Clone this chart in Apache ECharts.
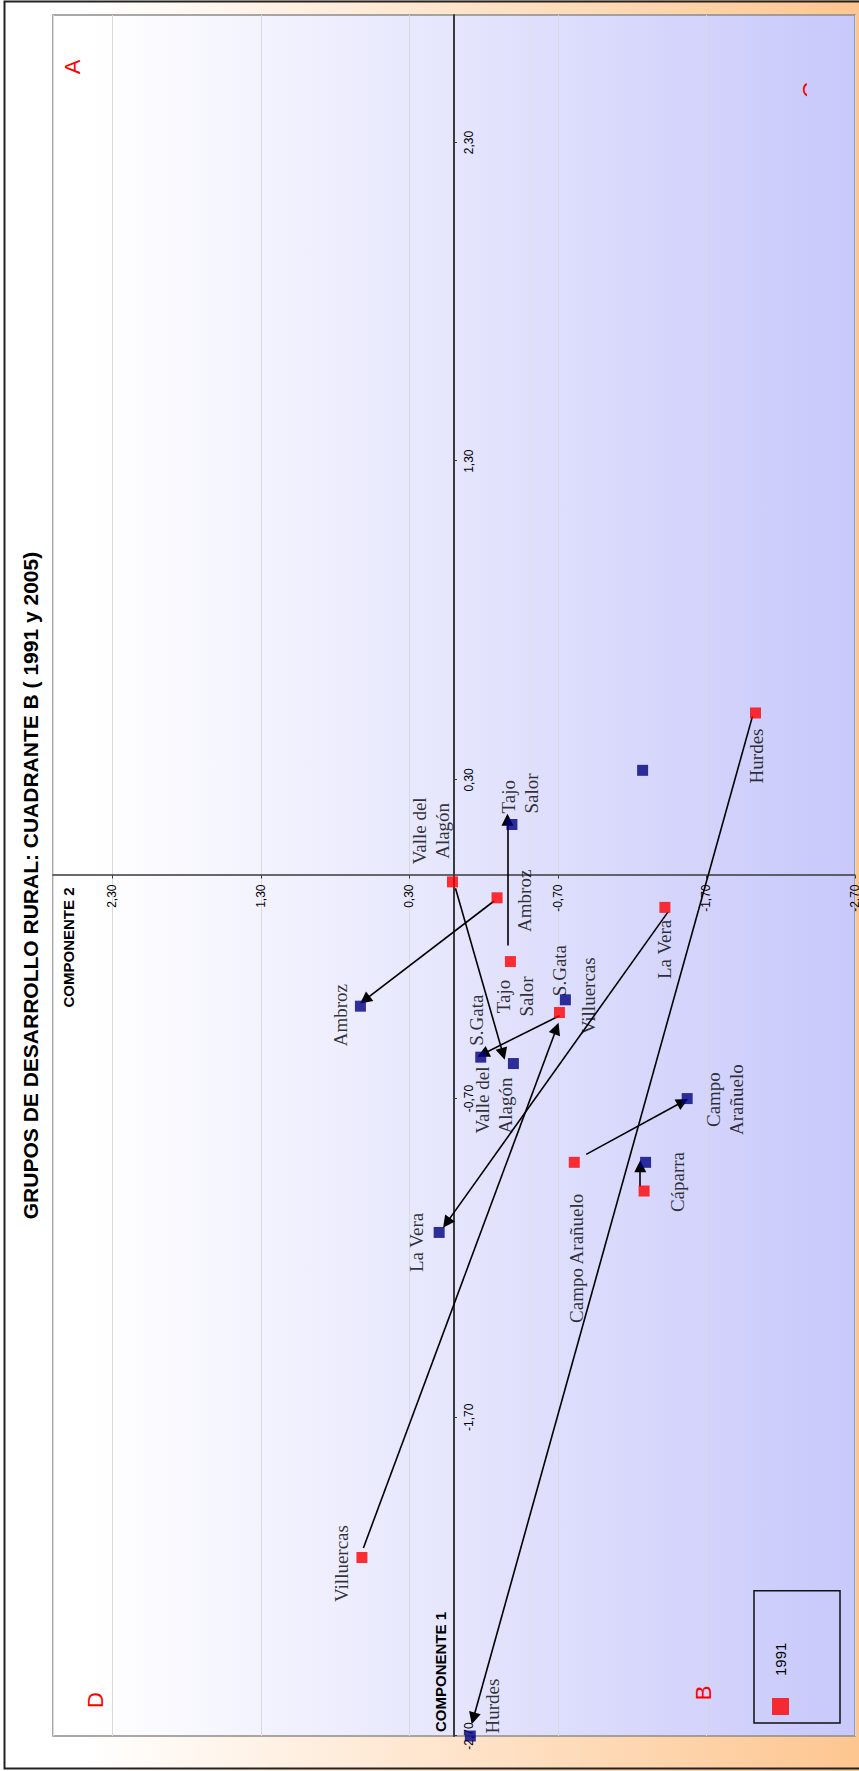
<!DOCTYPE html>
<html>
<head>
<meta charset="utf-8">
<script src="https://cdn.jsdelivr.net/npm/echarts/dist/echarts.min.js"></script>
<style>
html, body { margin: 0; padding: 0; background: #ffffff; overflow: hidden; }
#wrap { position: absolute; left: 0; top: 0; width: 859px; height: 1771px; overflow: hidden; }
#chart { position: absolute; left: 0; top: 0; width: 1771px; height: 859px;
  transform-origin: 0 0; transform: translate(0px, 1771px) rotate(-90deg); }
</style>
</head>
<body>
<div id="wrap"><div id="chart"></div></div>
<script>
// ---------------- DATA ----------------
const chartTitle = 'GRUPOS DE DESARROLLO RURAL: CUADRANTE B ( 1991 y 2005)';
const axisName1 = 'COMPONENTE 1';
const axisName2 = 'COMPONENTE 2';
const tickLabels = ['-2,70', '-1,70', '-0,70', '0,30', '1,30', '2,30'];
const quadrantLetters = ['A', 'B', 'C', 'D'];

// 1991 groups (red)
const names1991 = ['Valle del\nAlagón', 'Ambroz', 'Tajo\nSalor', 'La Vera', 'Hurdes', 'Villuercas', 'S.Gata', 'Campo Arañuelo', 'Cáparra'];
const comp1_1991 = [-0.02, -0.07, -0.27, -0.10, 0.51, -2.14, -0.43, -0.90, -0.99];
const comp2_1991 = [0.01, -0.29, -0.38, -1.42, -2.03, 0.62, -0.71, -0.81, -1.28];

// 2005 groups (navy)
const names2005 = ['Tajo\nSalor', 'Ambroz', 'S.Gata', 'Valle del\nAlagón', 'Villuercas', 'Campo\nArañuelo', 'Cáparra', 'La Vera', 'Hurdes', ''];
const comp1_2005 = [0.16, -0.41, -0.57, -0.59, -0.39, -0.70, -0.90, -1.12, -2.70, 0.33];
const comp2_2005 = [-0.39, 0.63, -0.18, -0.40, -0.75, -1.57, -1.29, 0.10, -0.11, -1.27];

// arrows 1991 -> 2005 (start / tip, in component units)
const arrowFrom = [[-0.04, -0.01], [-0.08, -0.27], [-0.22, -0.36], [-0.115, -1.44], [0.50, -2.01], [-2.11, 0.61], [-0.44, -0.71], [-0.875, -0.89], [-0.976, -1.254]];
const arrowTo   = [[-0.56, -0.33], [-0.39, 0.60], [0.175, -0.36], [-1.09, 0.05], [-2.645, -0.13], [-0.48, -0.69], [-0.56, -0.195], [-0.71, -1.54], [-0.912, -1.254]];

// ---------------- LAYOUT / STYLE ----------------
// label placement relative to the marker centre: [dx, dy, align]
const labelPlace1991 = [[51, -22, 'center'], [-3, 27, 'center'], [-35, 5, 'center'], [-42, 0, 'center'], [-43, 1, 'center'], [-6, -20, 'center'], [42, 0, 'center'], [-96, 2, 'center'], [9, 33, 'center']];
const labelPlace2005 = [[11, 8, 'left'], [-9, -20, 'center'], [37, -4, 'center'], [-70, -19, 'left'], [4, 23, 'center'], [-1, 38, 'center'], null, [-10, -23, 'center'], [30, 22, 'center'], null];

const W = 1771, H = 859;
const GRID = { left: 35, right: 15, top: 53, bottom: 4 };
const SANS = '"Liberation Sans", Arial, sans-serif';
const SERIF = '"Liberation Serif", "Times New Roman", serif';

function labelFor(place, name) {
  if (!place) return { show: false };
  return {
    show: true, formatter: name, position: 'inside',
    offset: [place[0], place[1]], align: place[2], verticalAlign: 'middle',
    color: '#000', fontFamily: SERIF, fontSize: 19, lineHeight: 23
  };
}
const fmt = v => {
  const s = (Math.round(v * 100) / 100).toFixed(2).replace('.', ',');
  return tickLabels.indexOf(s) >= 0 ? s : '';
};

// axes cross at (0,0), which is the middle of the symmetric ranges
const plotW = W - GRID.left - GRID.right;
const plotH = H - GRID.top - GRID.bottom;

const chart = echarts.init(document.getElementById('chart'), null, { renderer: 'svg', width: W, height: H });

const option = {
  animation: false,
  backgroundColor: {
    type: 'linear', x: 0, y: 0, x2: 0, y2: 1,
    colorStops: [{ offset: 0, color: '#ffffff' }, { offset: 0.1, color: '#ffffff' }, { offset: 1, color: '#fdc690' }]
  },
  title: {
    text: chartTitle, left: 'center', top: 20, padding: 0,
    textStyle: { fontFamily: SANS, fontSize: 21, fontWeight: 'bold', color: '#000' }
  },
  legend: {
    data: ['1991'], left: 48, top: 754, orient: 'vertical',
    itemWidth: 17, itemHeight: 17, padding: [18, 52, 51, 8],
    borderColor: '#111', borderWidth: 1.5, selectedMode: false,
    textStyle: { fontFamily: SANS, fontSize: 15, color: '#000', padding: [0, 0, 0, 17] }
  },
  grid: {
    left: GRID.left, right: GRID.right, top: GRID.top, bottom: GRID.bottom, show: true,
    outerBoundsMode: 'none', containLabel: false,
    borderColor: '#8c8c8c', borderWidth: 1.5,
    backgroundColor: {
      type: 'linear', x: 0, y: 0, x2: 0, y2: 1,
      colorStops: [{ offset: 0, color: '#ffffff' }, { offset: 0.07, color: '#fefeff' }, { offset: 1, color: '#c8c8fb' }]
    }
  },
  xAxis: {
    type: 'value', min: -2.7, max: 2.7, interval: 1,
    position: 'bottom', offset: -plotH / 2,
    name: axisName1, nameLocation: 'start', nameGap: -4, nameMoveOverlap: false,
    nameTextStyle: { fontFamily: SANS, fontSize: 15, fontWeight: 'bold', color: '#000', align: 'left', verticalAlign: 'bottom', padding: [0, 0, 6, 0] },
    axisLine: { show: true, onZero: false, lineStyle: { color: '#3a3a3a', width: 2 } },
    axisTick: { show: true, length: 3, lineStyle: { color: '#3a3a3a', width: 1 } },
    axisLabel: { show: true, margin: 9, showMaxLabel: false, showMinLabel: true, formatter: fmt, fontFamily: SANS, fontSize: 12, color: '#000' },
    splitLine: { show: false }
  },
  yAxis: {
    type: 'value', min: -2.7, max: 2.7, interval: 1,
    position: 'left', offset: -plotW / 2,
    name: axisName2, nameLocation: 'end', nameGap: -15, nameMoveOverlap: false,
    nameTextStyle: { fontFamily: SANS, fontSize: 15, fontWeight: 'bold', color: '#000', align: 'right', verticalAlign: 'middle', padding: [0, 12, 0, 0] },
    axisLine: { show: true, onZero: false, lineStyle: { color: '#3a3a3a', width: 1.5 } },
    axisTick: { show: true, length: 3, lineStyle: { color: '#3a3a3a', width: 1 } },
    axisLabel: { show: true, margin: 9, showMaxLabel: false, showMinLabel: true, formatter: fmt, fontFamily: SANS, fontSize: 12, color: '#000' },
    splitLine: { show: true, lineStyle: { color: '#d9d9e2', width: 1 } }
  },
  series: [
    {
      type: 'lines', coordinateSystem: 'cartesian2d', silent: true, z: 3,
      symbol: ['none', 'triangle'], symbolSize: 12,
      lineStyle: { color: '#000', width: 1.6, opacity: 1, curveness: 0 },
      data: arrowFrom.map((f, i) => ({ coords: [f, arrowTo[i]] }))
    },
    {
      name: '1991', type: 'scatter', symbol: 'rect', symbolSize: 11, clip: false, z: 4,
      itemStyle: { color: '#ff0000' }, emphasis: { disabled: true },
      data: comp1_1991.map((x, i) => ({ name: names1991[i], value: [x, comp2_1991[i]], label: labelFor(labelPlace1991[i], names1991[i]) }))
    },
    {
      name: '2005', type: 'scatter', symbol: 'rect', symbolSize: 11, clip: false, z: 4,
      itemStyle: { color: '#000080' }, emphasis: { disabled: true },
      data: comp1_2005.map((x, i) => ({ name: names2005[i], value: [x, comp2_2005[i]], label: labelFor(labelPlace2005[i], names2005[i]) }))
    }
  ],
  graphic: [
    { type: 'text', z: 20, silent: true, style: { x: 1704, y: 72, text: quadrantLetters[0], fill: '#ff0000', font: '22px ' + SANS, align: 'center', verticalAlign: 'middle', textAlign: 'center', textVerticalAlign: 'middle' } },
    { type: 'text', z: 20, silent: true, style: { x: 78, y: 703, text: quadrantLetters[1], fill: '#ff0000', font: '22px ' + SANS, align: 'center', verticalAlign: 'middle', textAlign: 'center', textVerticalAlign: 'middle' } },
    { type: 'text', z: 20, silent: true, style: { x: 1681, y: 810, text: quadrantLetters[2], fill: '#ff0000', font: '22px ' + SANS, align: 'center', verticalAlign: 'middle', textAlign: 'center', textVerticalAlign: 'middle' } },
    { type: 'rect', z: 21, silent: true, shape: { x: 1668, y: 807, width: 26, height: 16 }, style: { fill: '#cbcbfb' } },
    { type: 'text', z: 20, silent: true, style: { x: 71, y: 95, text: quadrantLetters[3], fill: '#ff0000', font: '22px ' + SANS, align: 'center', verticalAlign: 'middle', textAlign: 'center', textVerticalAlign: 'middle' } },
    { type: 'rect', z: 30, silent: true, shape: { x: 2.5, y: 4.5, width: 1767, height: 860 }, style: { fill: 'none', stroke: '#222', lineWidth: 2 } }
  ]
};
chart.setOption(option);
</script>
</body>
</html>
